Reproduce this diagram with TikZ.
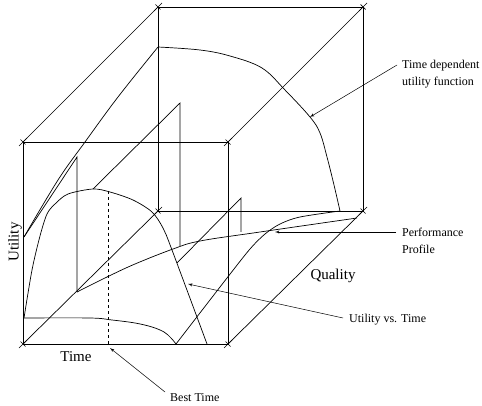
\documentclass[tikz,border=0pt]{standalone}
\usepackage{fontspec}
\setmainfont{Liberation Serif}
\usetikzlibrary{arrows}
\tikzset{
    edge/.style={-, draw=black, line width=0.7pt},
    curve/.style={-, draw=black, line width=0.7pt},
    drop/.style={-, draw=black, line width=0.7pt},
    best/.style={-, draw=black, line width=0.7pt, dashed},
    msg/.style={->,> = latex', draw=black, line width=0.5pt},
    axis/.style={font=\fontsize{15}{18}\selectfont, inner sep=0pt},
    note/.style={font=\fontsize{12}{17}\selectfont, inner sep=0pt, align=left},
}

\begin{document}
\begin{tikzpicture}[x=1pt,y=-1pt]
    \useasboundingbox (0,0) rectangle (482,406);
    % cube corners
    \coordinate (ftl) at (23,142);
    \coordinate (ftr) at (228,142);
    \coordinate (fbl) at (23,344);
    \coordinate (fbr) at (228,344);
    \coordinate (btl) at (158,7);
    \coordinate (btr) at (363,7);
    \coordinate (bbl) at (158,211);
    \coordinate (bbr) at (363,211);
    \draw[edge] (ftl) rectangle (fbr);
    \draw[edge] (btl) rectangle (bbr);
    \draw[edge] (ftl) -- (btl);
    \draw[edge] (ftr) -- (btr);
    \draw[edge] (fbl) -- (bbl);
    \draw[edge] (fbr) -- (bbr);
    \foreach \c in {ftl,ftr,fbl,fbr,btl,btr,bbl,bbr} {
        \draw[edge] ([shift={(-4,4)}]\c) -- ([shift={(4,-4)}]\c);
        \draw[edge] ([shift={(-2.5,-2.5)}]\c) -- ([shift={(2.5,2.5)}]\c);
    }
    % curves
    \draw[curve] plot[smooth, tension=0.6] coordinates {(158,47) (200,50) (230,56) (262,68) (285,90) (310,117) (320,133) (327,157) (334,185) (340,211)};
    \draw[curve] plot[smooth, tension=0.6] coordinates {(24,237) (58,180) (85,142) (118,97) (158,47)};
    \draw[curve] plot[smooth, tension=0.5] coordinates {(24,318) (32,270) (40,236) (47,214) (55,204) (68,194) (93,189) (110,192) (133,200) (152,212) (163,228) (172,250) (207,344)};
    \draw[curve] plot[smooth, tension=0.6] coordinates {(24,318) (90,318) (112,320) (135,323) (152,327) (164,332) (171,338) (176,344)};
    \draw[curve] plot[smooth, tension=0.5] coordinates {(176,344) (227,278) (250,249) (265,234) (280,224) (300,217) (340,211)};
    \draw[curve] plot[smooth, tension=0.6] coordinates {(77,292) (107,277) (135,264) (173,249) (200,241) (260,232) (357,218)};
    % drop lines
    \draw[drop] (24,237) -- (77,157) -- (77,292);
    \draw[drop] (93,189) -- (180,103) -- (180,246);
    \draw[drop] (177,263) -- (241,198) -- (241,232);
    \draw[best] (108,191) -- (108,344);
    % axis labels
    \node[axis] (time) at (76,357) {Time};
    \node[axis] (quality) at (333,276) {Quality};
    \node[axis, rotate=90] (utility) at (15,242) {Utility};
    % notes
    \node[note, anchor=north west] (tdu) at (402,60) {Time dependent\\utility function};
    \node[note, anchor=north west] (perf) at (402,228) {Performance\\Profile};
    \node[note, anchor=west] (uvt) at (349,320) {Utility vs. Time};
    \node[note, anchor=north west] (besttime) at (170,393) {Best Time};
    \coordinate (tdutip) at (310,117);
    \coordinate (perftip) at (275,232);
    \coordinate (uvttip) at (188,284);
    \coordinate (besttip) at (110,348);
    \draw[msg] ([shift={(-5,5)}]tdu.north west) -- (tdutip);
    \draw[msg] ([shift={(-6,4)}]perf.north west) -- (perftip);
    \draw[msg] ([shift={(-6,-2)}]uvt.west) -- (uvttip);
    \draw[msg] ([shift={(-5,-1)}]besttime.north west) -- (besttip);
\end{tikzpicture}
\end{document}
